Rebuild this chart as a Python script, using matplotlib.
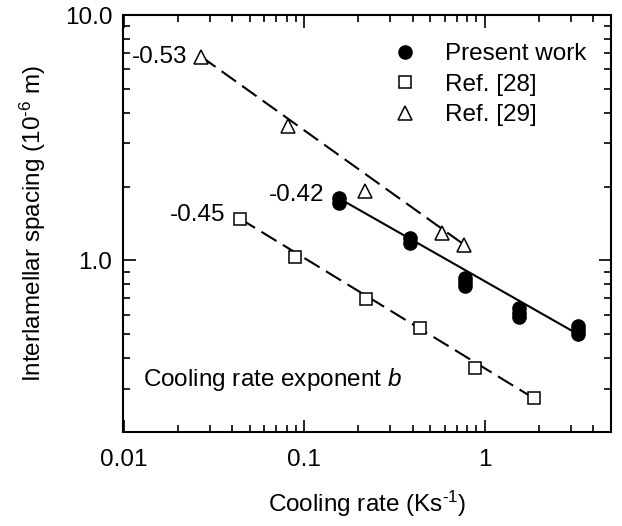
import matplotlib.pyplot as plt
import numpy as np
from matplotlib.ticker import LogLocator, FixedLocator, FixedFormatter, NullFormatter

plt.rcParams['font.family'] = ['Liberation Sans', 'DejaVu Sans']
plt.rcParams['mathtext.fontset'] = 'custom'
plt.rcParams['mathtext.rm'] = 'Liberation Sans'
plt.rcParams['mathtext.it'] = 'Liberation Sans:italic'

# present work
present_x = [0.156, 0.156, 0.384, 0.384, 0.775, 0.775, 0.775, 1.55, 1.55, 1.55, 3.29, 3.29, 3.29]
present_y = [1.79, 1.72, 1.24, 1.18, 0.85, 0.82, 0.79, 0.64, 0.61, 0.59, 0.54, 0.52, 0.50]
present_fit_x = [0.156, 3.29]
present_fit_y = [1.79, 0.50]

# Ref. [28]
ref28_x = [0.0441, 0.0886, 0.221, 0.44, 0.888, 1.876]
ref28_y = [1.48, 1.035, 0.694, 0.529, 0.363, 0.274]
ref28_fit_x = [0.0441, 1.876]
ref28_fit_y = [1.48, 0.274]

# Ref. [29]
ref29_x = [0.0269, 0.0813, 0.216, 0.58, 0.768]
ref29_y = [6.77, 3.54, 1.91, 1.296, 1.16]
ref29_fit_x = [0.0269, 0.768]
ref29_fit_y = [6.77, 1.16]

fs = 17.5

fig = plt.figure(figsize=(6.22, 5.26), dpi=100)
ax = fig.add_axes([123.5/622, 1 - 432/526, (611 - 123.5)/622, (432 - 15)/526])

dash = (0, (8.5, 3.6))
ax.plot(ref29_fit_x, ref29_fit_y, color='black', lw=1.5, linestyle=dash)
ax.plot(ref28_fit_x, ref28_fit_y, color='black', lw=1.5, linestyle=dash)
ax.plot(present_fit_x, present_fit_y, color='black', lw=1.5)

ax.plot(present_x, present_y, 'o', color='black', ms=9.5, label='Present work')
ax.plot(ref28_x, ref28_y, 's', mfc='white', mec='black', mew=1.1, ms=8.5, label='Ref. [28]')
ax.plot(ref29_x, ref29_y, '^', mfc='white', mec='black', mew=1.1, ms=9.5, label='Ref. [29]')

ax.set_xscale('log')
ax.set_yscale('log')
ax.set_xlim(0.01, 5)
ax.set_ylim(0.2, 10)

ax.xaxis.set_major_locator(FixedLocator([0.01, 0.1, 1]))
ax.xaxis.set_major_formatter(FixedFormatter(['0.01', '0.1', '1']))
ax.xaxis.set_minor_locator(LogLocator(base=10, subs=np.arange(2, 10)))
ax.xaxis.set_minor_formatter(NullFormatter())
ax.yaxis.set_major_locator(FixedLocator([1, 10]))
ax.yaxis.set_major_formatter(FixedFormatter(['1.0', '10.0']))
ax.yaxis.set_minor_locator(LogLocator(base=10, subs=np.arange(2, 10)))
ax.yaxis.set_minor_formatter(NullFormatter())

ax.tick_params(which='both', direction='in', top=True, right=True, labelsize=fs, width=1.2)
ax.tick_params(which='major', length=9)
ax.tick_params(which='minor', length=5)
ax.tick_params(axis='x', which='major', pad=12)
ax.tick_params(axis='y', which='major', pad=8)
for s in ax.spines.values():
    s.set_linewidth(1.5)

ax.set_xlabel('Cooling rate (Ks$^{\\text{-}1}$)', fontsize=fs, labelpad=13)
ax.set_ylabel('Interlamellar spacing (10$^{\\text{-}6}$ m)', fontsize=fs, labelpad=12)

ax.text(0.0226, 6.77, '-0.53', fontsize=fs, ha='right', va='center')
ax.text(0.130, 1.855, '-0.42', fontsize=fs, ha='right', va='center')
ax.text(0.0367, 1.53, '-0.45', fontsize=fs, ha='right', va='center')
ax.text(0.0128, 0.328, 'Cooling rate exponent $b$', fontsize=fs, ha='left', va='center')

ax.legend(loc='upper right', bbox_to_anchor=(0.995, 0.985), frameon=False, fontsize=fs,
          handletextpad=0.9, labelspacing=0.35, handlelength=1.5)

fig.savefig('out.png', dpi=100)
